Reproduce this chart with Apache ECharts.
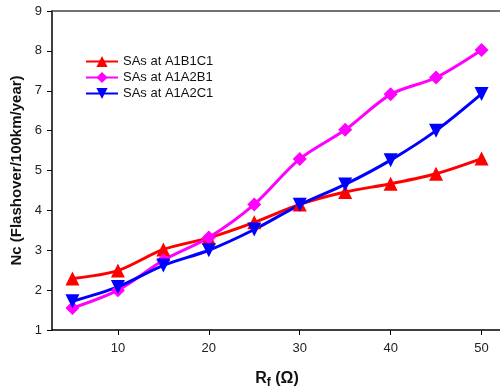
<!DOCTYPE html>
<html>
<head>
<meta charset="utf-8">
<script src="https://cdn.jsdelivr.net/npm/echarts@6/dist/echarts.min.js"></script>
<style>
  html, body { margin: 0; padding: 0; background: #fff; }
  #chart { width: 500px; height: 389px; }
</style>
</head>
<body>
<div id="chart"></div>
<script>
// data
const rf = [5, 10, 15, 20, 25, 30, 35, 40, 45, 50];
const a1b1c1 = [2.29, 2.49, 3.02, 3.31, 3.70, 4.15, 4.46, 4.67, 4.92, 5.30];
const a1a2b1 = [1.55, 2.00, 2.75, 3.32, 4.15, 5.29, 6.02, 6.91, 7.33, 8.02];
const a1a2c1 = [1.72, 2.08, 2.62, 3.00, 3.52, 4.14, 4.65, 5.26, 6.00, 6.92];
const xTicks = [10, 20, 30, 40, 50];

const chart = echarts.init(document.getElementById('chart'));

const font = 'Liberation Sans, Arial, sans-serif';

function mkSeries(name, vals, color, symbol, size) {
  return {
    name: name,
    type: 'line',
    data: rf.map((x, i) => [x, vals[i]]),
    smooth: 0.3,
    symbol: symbol,
    symbolSize: size,
    lineStyle: { color: color, width: 3 },
    itemStyle: { color: color },
    z: 3
  };
}

chart.setOption({
  animation: false,
  grid: { left: 52, right: -2, top: 11, bottom: 59, outerBoundsMode: 'none' },
  legend: {
    left: 80,
    top: 50,
    orient: 'vertical',
    itemWidth: 32,
    itemHeight: 14,
    itemGap: 3,
    textStyle: { fontFamily: font, fontSize: 13, color: '#111' },
    data: ['SAs at A1B1C1', 'SAs at A1A2B1', 'SAs at A1A2C1']
  },
  xAxis: [
    {
      type: 'value',
      min: 2.75,
      max: 52.25,
      name: '{b|R}{s|f}{b| (Ω)}',
      nameLocation: 'middle',
      nameGap: 39,
      nameTextStyle: {
        rich: {
          b: { fontFamily: font, fontSize: 16, fontWeight: 'bold', color: '#111' },
          s: { fontFamily: font, fontSize: 12, fontWeight: 'bold', color: '#111', padding: [8, 0, 0, 0] }
        }
      },
      splitLine: { show: false },
      axisLine: { show: true, lineStyle: { color: '#000', width: 1.5 } },
      axisTick: { show: true, customValues: xTicks, length: 5, lineStyle: { color: '#000' } },
      axisLabel: { customValues: xTicks, fontFamily: font, fontSize: 13, color: '#222', margin: 12 }
    },
    {
      type: 'value',
      position: 'top',
      min: 2.75,
      max: 52.25,
      axisLine: { show: true, lineStyle: { color: '#444', width: 1.5 } },
      axisTick: { show: false },
      axisLabel: { show: false },
      splitLine: { show: false }
    }
  ],
  yAxis: {
    type: 'value',
    min: 1,
    max: 9,
    interval: 1,
    name: 'Nc (Flashover/100km/year)',
    nameLocation: 'middle',
    nameGap: 27,
    nameTextStyle: { fontFamily: font, fontSize: 15, fontWeight: 'bold', color: '#111' },
    splitLine: { show: false },
    axisLine: { show: true, lineStyle: { color: '#000', width: 1.5 } },
    axisTick: { show: true, length: 5, lineStyle: { color: '#000' } },
    axisLabel: { fontFamily: font, fontSize: 13, color: '#222', margin: 10 }
  },
  series: [
    mkSeries('SAs at A1B1C1', a1b1c1, '#ff0000', 'triangle', 14),
    mkSeries('SAs at A1A2B1', a1a2b1, '#ff00ff', 'diamond', 14),
    mkSeries('SAs at A1A2C1', a1a2c1, '#0000ff', 'path://M0,0 L10,0 L5,9 Z', 14)
  ]
});
</script>
</body>
</html>
